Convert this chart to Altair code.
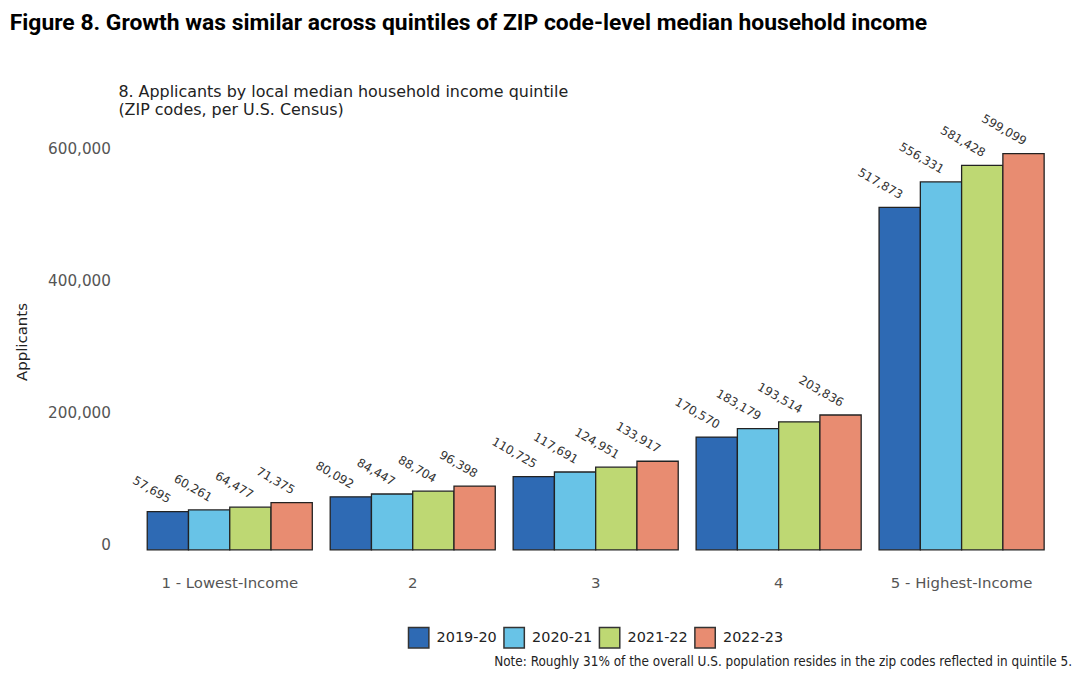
import altair as alt
import pandas as pd

quintiles = ["1 - Lowest-Income", "2", "3", "4", "5 - Highest-Income"]
years = ["2019-20", "2020-21", "2021-22", "2022-23"]
v_2019_20 = [57695, 80092, 110725, 170570, 517873]
v_2020_21 = [60261, 84447, 117691, 183179, 556331]
v_2021_22 = [64477, 88704, 124951, 193514, 581428]
v_2022_23 = [71375, 96398, 133917, 203836, 599099]
colors = ["#2E6AB4", "#68C3E7", "#BED873", "#E88C71"]
y_ticks = [0, 200000, 400000, 600000]

title_text = "Figure 8. Growth was similar across quintiles of ZIP code-level median household income"
subtitle_text = "8. Applicants by local median household income quintile\n (ZIP codes, per U.S. Census)"
note_text = "Note: Roughly 31% of the overall U.S. population resides in the zip codes reflected in quintile 5."

rows = []
for yr, vals in zip(years, [v_2019_20, v_2020_21, v_2021_22, v_2022_23]):
    for q, v in zip(quintiles, vals):
        rows.append({"quintile": q, "year": yr, "applicants": v, "label": f"{v:,}"})
df = pd.DataFrame(rows)

W, H = 920, 419
FONT = "DejaVu Sans"

x = alt.X(
    "quintile:N", sort=quintiles,
    scale=alt.Scale(paddingInner=0.0978, paddingOuter=0.049),
    axis=alt.Axis(title=None, labelAngle=0, domain=False, ticks=False,
                  labelPadding=26, labelFontSize=15, labelColor="#555555",
                  labelFont=FONT),
)
xo = alt.XOffset("year:N", sort=years, scale=alt.Scale(paddingInner=0, paddingOuter=0))
y = alt.Y(
    "applicants:Q",
    scale=alt.Scale(domain=[0, 630000], nice=False),
    axis=alt.Axis(title="Applicants", values=y_ticks, format=",.0f", grid=False,
                  domain=False, ticks=False, tickSize=0, labelPadding=28,
                  labelOffset=-5, labelFontSize=15.3, labelColor="#555555",
                  labelFont=FONT, titleFont=FONT, titleFontSize=15,
                  titleFontWeight="normal", titleColor="#222222",
                  titlePadding=18),
)
color = alt.Color(
    "year:N", sort=years,
    scale=alt.Scale(domain=years, range=colors),
    legend=alt.Legend(title=None, orient="none", legendX=271, legendY=496,
                      direction="horizontal", symbolType="square",
                      symbolSize=420, symbolStrokeColor="#333333",
                      symbolStrokeWidth=1.5, symbolOpacity=1,
                      labelFont=FONT, labelFontSize=14.5, labelColor="#222222",
                      labelOffset=7, columnPadding=3),
)

bars = alt.Chart(df).mark_bar(stroke="#222222", strokeWidth=1.3).encode(
    x=x, xOffset=xo, y=y, color=color
)
labels = alt.Chart(df).mark_text(
    angle=30, align="right", baseline="bottom", dx=-4, dy=-4,
    fontSize=12, font=FONT, color="#333333"
).encode(x=x, xOffset=xo, y=y, text="label:N")

subtitle = alt.Chart(pd.DataFrame({"t": [subtitle_text]})).mark_text(
    align="left", baseline="top", lineBreak="\n", fontSize=16, lineHeight=18,
    font=FONT, color="#222222"
).encode(x=alt.value(-20), y=alt.value(-49), text="t:N")

note = alt.Chart(pd.DataFrame({"t": [note_text]})).mark_text(
    align="right", baseline="middle", fontSize=13.5,
    font="DejaVu Sans Condensed, Liberation Sans Narrow, DejaVu Sans",
    color="#222222"
).encode(x=alt.value(W + 19), y=alt.value(532), text="t:N")

chart = alt.layer(bars, labels, subtitle, note).properties(
    width=W, height=H,
    padding={"left": 1, "top": 2, "right": 0, "bottom": 5},
    title=alt.TitleParams(title_text, anchor="start", frame="bounds",
                          font="Roboto", fontWeight="bold", fontSize=23,
                          color="#000000", offset=50, dx=-5),
).configure(background="white").configure_view(stroke="transparent", strokeWidth=0)

chart.save("out.html", embed_options={"renderer": "svg", "actions": False})
